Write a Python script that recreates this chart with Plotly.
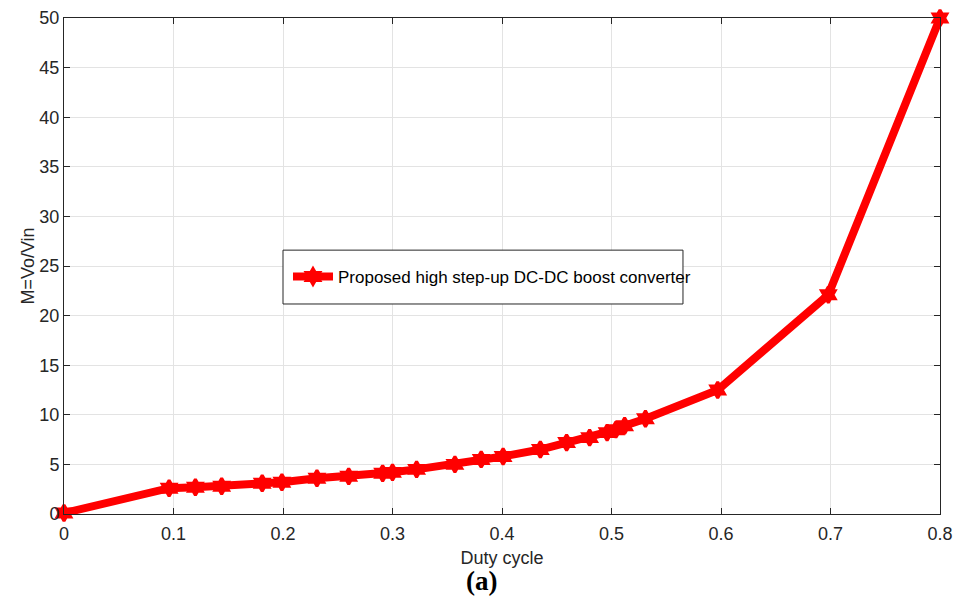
import plotly.graph_objects as go

duty = [0.0, 0.096, 0.12, 0.144, 0.181, 0.199, 0.231, 0.26, 0.291, 0.30, 0.322,
        0.357, 0.381, 0.401, 0.435, 0.459, 0.48, 0.496, 0.504, 0.512, 0.531,
        0.597, 0.698, 0.8]
gain = [0.1, 2.6, 2.7, 2.8, 3.1, 3.2, 3.6, 3.8, 4.1, 4.2, 4.5,
        5.0, 5.5, 5.8, 6.5, 7.2, 7.7, 8.2, 8.5, 8.9, 9.6,
        12.5, 22.1, 50.0]
x_ticks = [0, 0.1, 0.2, 0.3, 0.4, 0.5, 0.6, 0.7, 0.8]
x_labels = ["0", "0.1", "0.2", "0.3", "0.4", "0.5", "0.6", "0.7", "0.8"]
y_ticks = list(range(0, 55, 5))

FONT = "Liberation Sans, Arial"
fig = go.Figure()
fig.add_trace(go.Scatter(
    x=duty, y=gain, mode="lines+markers",
    name="Proposed high step-up DC-DC boost converter",
    line=dict(color="#ff0000", width=8),
    marker=dict(symbol="hexagram", size=12, color="#ff0000",
                line=dict(color="#ff0000", width=3)),
    cliponaxis=False,
))

axis_common = dict(
    showline=True, linecolor="#262626", linewidth=1, mirror="ticks",
    ticks="inside", ticklen=6, tickcolor="#262626",
    showgrid=True, gridcolor="#e3e3e3", gridwidth=1, zeroline=False,
    automargin=False,
    tickfont=dict(family=FONT, size=18, color="#262626"),
)

fig.update_layout(
    width=958, height=598,
    margin=dict(l=64, r=18, t=18, b=84),
    paper_bgcolor="white", plot_bgcolor="white",
    xaxis=dict(range=[0, 0.8], tickvals=x_ticks, ticktext=x_labels,
               ticklabelstandoff=3,
               title=dict(text="Duty cycle", standoff=8,
                          font=dict(family=FONT, size=18, color="#262626")),
               **axis_common),
    yaxis=dict(range=[0, 50], tickvals=y_ticks,
               title=dict(text="M=Vo/Vin", standoff=0,
                          font=dict(family=FONT, size=18, color="#262626")),
               **axis_common),
    legend=dict(x=0.2557, y=0.478, xanchor="left", yanchor="middle",
                borderwidth=0, bgcolor="rgba(0,0,0,0)",
                font=dict(family=FONT, size=17, color="#000000"),
                itemwidth=40, tracegroupgap=0),
    showlegend=True,
    shapes=[dict(type="rect", xref="paper", yref="paper",
                 x0=0.25, x1=0.7066, y0=0.4234, y1=0.532,
                 line=dict(color="#262626", width=1), fillcolor="white",
                 layer="above")],
    annotations=[dict(text="<b>(a)</b>", xref="paper", yref="paper",
                      x=0.477, y=-0.1, xanchor="center", yanchor="top",
                      showarrow=False,
                      font=dict(family="Liberation Serif, Times New Roman", size=27, color="black"))],
)

fig.write_html("out.html")
